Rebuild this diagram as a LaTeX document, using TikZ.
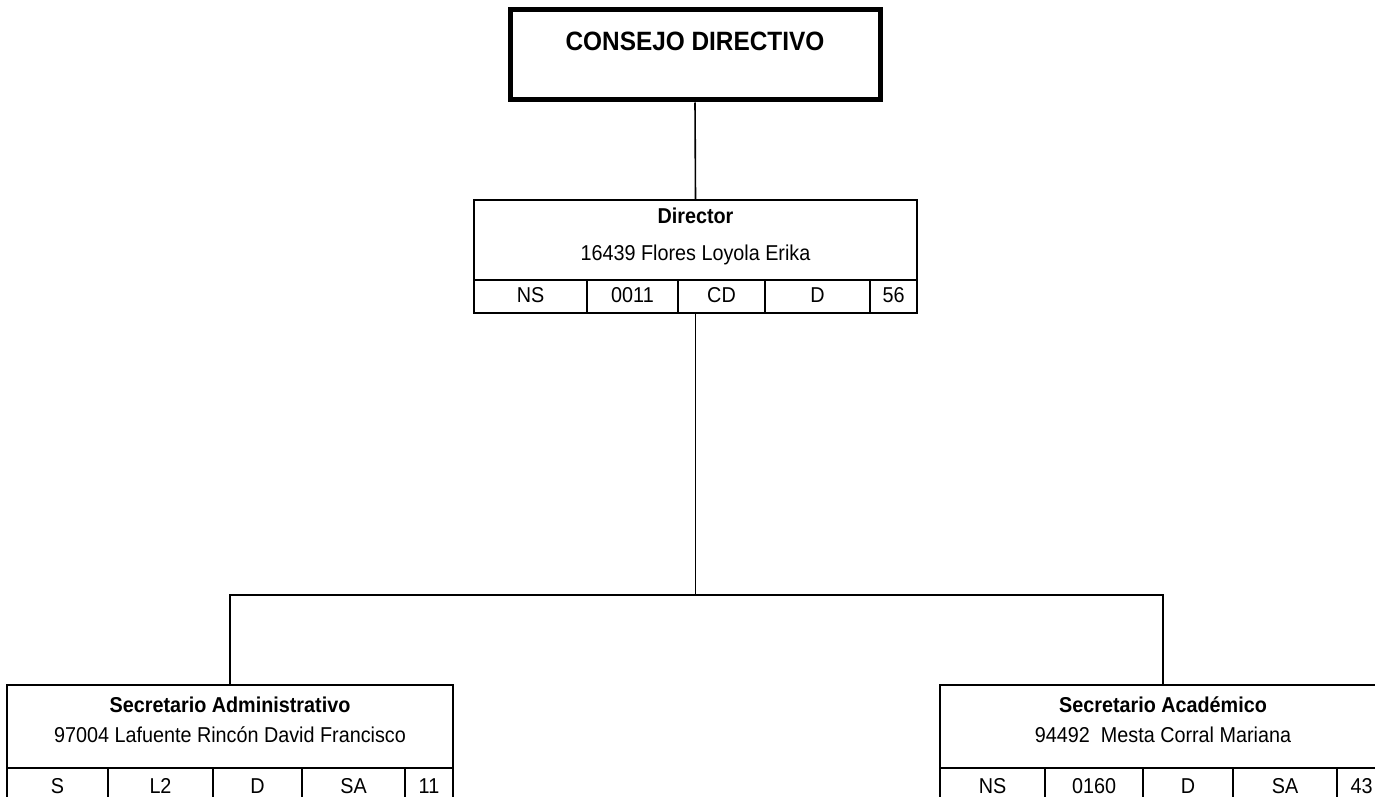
\documentclass[tikz,border=0pt]{standalone}
\usepackage{fontspec}
\setmainfont[FakeStretch=0.92]{Liberation Sans}

\tikzset{
	caja/.style={draw, line width=1.6pt, inner sep=0pt},
	texto/.style={anchor=base, inner sep=0pt, font=\fontsize{21.5}{25}\selectfont},
	titulo/.style={texto, font=\fontsize{21.5}{25}\selectfont\bfseries},
	linea/.style={line width=1.6pt}
}

\begin{document}
\begin{tikzpicture}[x=1pt, y=-1pt]
	\clip (0,0) rectangle (1375,797);
	\fill[white] (0,0) rectangle (1375,797);

	% consejo directivo
	\node[caja, line width=5pt, minimum width=370pt, minimum height=90pt] (consejo) at (695,55) {};
	\node[titulo, font=\fontsize{26.5}{30}\selectfont\bfseries] (consejo-t) at (695,51) {CONSEJO DIRECTIVO};

	% director
	\node[caja, minimum width=443pt, minimum height=113pt] (dir) at (695.5,256.5) {};
	\node[titulo] (dir-t) at (695.5,223) {Director};
	\node[texto] (dir-n) at (695.5,260) {16439 Flores Loyola Erika};
	\draw[linea] (474,280) -- (917,280);
	\foreach \x in {587,678,765,870}
		\draw[linea] (\x,280) -- (\x,313);
	\foreach \x/\t [count=\i] in {530.5/NS, 632.5/0011, 721.5/CD, 817.5/D, 893.5/56}
		\node[texto] (dir-\i) at (\x,302) {\t};

	% secretario administrativo
	\node[caja, minimum width=446pt, minimum height=116pt] (admin) at (230,743) {};
	\node[titulo] (admin-t) at (230,712) {Secretario Administrativo};
	\node[texto] (admin-n) at (230,742) {97004 Lafuente Rincón David Francisco};
	\draw[linea] (7,768) -- (453,768);
	\foreach \x in {108,213,302,405}
		\draw[linea] (\x,768) -- (\x,801);
	\foreach \x/\t [count=\i] in {57.5/S, 160.5/L2, 257.5/D, 353.5/SA, 429/11}
		\node[texto] (admin-\i) at (\x,793) {\t};

	% secretario academico
	\node[caja, minimum width=446pt, minimum height=116pt] (acad) at (1163,743) {};
	\node[titulo] (acad-t) at (1163,712) {Secretario Académico};
	\node[texto] (acad-n) at (1163,742) {94492\ \ Mesta Corral Mariana};
	\draw[linea] (940,768) -- (1386,768);
	\foreach \x in {1045,1143,1233,1337}
		\draw[linea] (\x,768) -- (\x,801);
	\foreach \x/\t [count=\i] in {992.5/NS, 1094/0160, 1188/D, 1285/SA, 1361.5/43}
		\node[texto] (acad-\i) at (\x,793) {\t};

	% lineas de mando
	\coordinate (bus) at (695.5,595);
	\draw[linea] (consejo.south) -- (dir.north);
	\draw[linea] (dir.south) -- (bus);
	\draw[linea] (admin.north) |- (bus) -| (acad.north);
\end{tikzpicture}
\end{document}
